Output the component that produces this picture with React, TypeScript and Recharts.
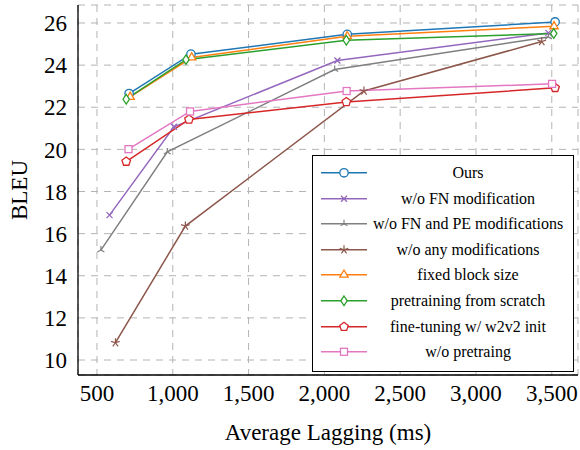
import React from 'react';
import { LineChart, Line, XAxis, YAxis, CartesianGrid, Legend } from 'recharts';

// Average Lagging (ms) / BLEU
const oursAL = [712, 1120, 2151, 3522];
const oursBLEU = [22.65, 24.52, 25.46, 26.05];

const noFnAL = [583, 1008, 2086, 3478];
const noFnBLEU = [16.88, 21.07, 24.22, 25.53];

const noFnPeAL = [526, 964, 2068, 3478];
const noFnPeBLEU = [15.22, 19.88, 23.79, 25.34];

const noModAL = [622, 1083, 2261, 3434];
const noModBLEU = [10.82, 16.36, 22.77, 25.12];

const fixedAL = [719, 1125, 2151, 3515];
const fixedBLEU = [22.49, 24.36, 25.37, 25.84];

const scratchAL = [693, 1087, 2145, 3513];
const scratchBLEU = [22.38, 24.26, 25.18, 25.5];

const w2v2AL = [693, 1107, 2145, 3522];
const w2v2BLEU = [19.42, 21.42, 22.25, 22.92];

const noPretrainAL = [708, 1114, 2147, 3502];
const noPretrainBLEU = [20.01, 21.8, 22.77, 23.11];

const xTicks = [500, 1000, 1500, 2000, 2500, 3000, 3500];
const yTicks = [10, 12, 14, 16, 18, 20, 22, 24, 26];

type Shape = 'circle' | 'cross' | 'mercedes' | 'star' | 'triangle' | 'diamond' | 'pentagon' | 'square';

const toPoints = (al: number[], bleu: number[]) => al.map((a, i) => ({ al: a, bleu: bleu[i] }));

const series: { name: string; color: string; shape: Shape; data: { al: number; bleu: number }[] }[] = [
    { name: 'Ours', color: '#1f77b4', shape: 'circle', data: toPoints(oursAL, oursBLEU) },
    { name: 'w/o FN modification', color: '#9467bd', shape: 'cross', data: toPoints(noFnAL, noFnBLEU) },
    { name: 'w/o FN and PE modifications', color: '#7f7f7f', shape: 'mercedes', data: toPoints(noFnPeAL, noFnPeBLEU) },
    { name: 'w/o any modifications', color: '#8c564b', shape: 'star', data: toPoints(noModAL, noModBLEU) },
    { name: 'fixed block size', color: '#ff7f0e', shape: 'triangle', data: toPoints(fixedAL, fixedBLEU) },
    { name: 'pretraining from scratch', color: '#2ca02c', shape: 'diamond', data: toPoints(scratchAL, scratchBLEU) },
    { name: 'fine-tuning w/ w2v2 init', color: '#d62728', shape: 'pentagon', data: toPoints(w2v2AL, w2v2BLEU) },
    { name: 'w/o pretraing', color: '#e377c2', shape: 'square', data: toPoints(noPretrainAL, noPretrainBLEU) },
];

const FONT = '"Liberation Serif", "DejaVu Serif", serif';

const spokes = (cx: number, cy: number, n: number, r: number, color: string) => {
    const lines = [];
    for (let i = 0; i < n; i++) {
        const a = -Math.PI / 2 + (i * 2 * Math.PI) / n;
        lines.push(<line key={i} x1={cx} y1={cy} x2={cx + r * Math.cos(a)} y2={cy + r * Math.sin(a)} stroke={color} strokeWidth={1.2} />);
    }
    return lines;
};

const polygon = (cx: number, cy: number, n: number, r: number) => {
    const pts = [];
    for (let i = 0; i < n; i++) {
        const a = -Math.PI / 2 + (i * 2 * Math.PI) / n;
        pts.push(`${cx + r * Math.cos(a)},${cy + r * Math.sin(a)}`);
    }
    return pts.join(' ');
};

const Marker = ({ cx, cy, color, shape }: { cx: number; cy: number; color: string; shape: Shape }) => {
    const sw = 1.3;
    switch (shape) {
        case 'circle':
            return <circle cx={cx} cy={cy} r={4.2} fill="#fff" stroke={color} strokeWidth={sw} />;
        case 'cross':
            return (
                <g>
                    <line x1={cx - 3} y1={cy - 3} x2={cx + 3} y2={cy + 3} stroke={color} strokeWidth={sw} />
                    <line x1={cx - 3} y1={cy + 3} x2={cx + 3} y2={cy - 3} stroke={color} strokeWidth={sw} />
                </g>
            );
        case 'mercedes':
            return <g>{spokes(cx, cy, 3, 4, color)}</g>;
        case 'star':
            return <g>{spokes(cx, cy, 5, 4.5, color)}</g>;
        case 'triangle':
            return <polygon points={polygon(cx, cy, 3, 4.8)} fill="#fff" stroke={color} strokeWidth={sw} />;
        case 'diamond':
            return <polygon points={`${cx},${cy - 4.8} ${cx + 3.2},${cy} ${cx},${cy + 4.8} ${cx - 3.2},${cy}`} fill="#fff" stroke={color} strokeWidth={sw} />;
        case 'pentagon':
            return <polygon points={polygon(cx, cy, 5, 4.5)} fill="#fff" stroke={color} strokeWidth={sw} />;
        case 'square':
            return <rect x={cx - 3.5} y={cy - 3.5} width={7} height={7} fill="#fff" stroke={color} strokeWidth={sw} />;
    }
    return null;
};

const LegendBox = () => (
    <div
        style={{
            width: 262,
            height: 217,
            boxSizing: 'border-box',
            border: '1.5px solid #000',
            background: '#fff',
            paddingTop: 4,
            fontFamily: FONT,
            fontSize: 16,
            color: '#000',
        }}
    >
        {series.map((s) => (
            <div key={s.name} style={{ position: 'relative', height: 25.6 }}>
                <svg width={56} height={25.6} style={{ position: 'absolute', left: 0, top: 0 }}>
                    <line x1={8} y1={12.8} x2={54} y2={12.8} stroke={s.color} strokeWidth={1.5} />
                    <Marker cx={31} cy={12.8} color={s.color} shape={s.shape} />
                </svg>
                <div style={{ position: 'absolute', left: 55, width: 200, top: 0, lineHeight: '25.6px', textAlign: 'center', whiteSpace: 'nowrap' }}>
                    {s.name}
                </div>
            </div>
        ))}
    </div>
);

const App = () => (
    <div style={{ position: 'absolute', left: 0, top: 0, background: '#fff' }}>
        <LineChart width={580} height={450} margin={{ top: 5, right: 2, left: 0, bottom: 0 }}>
            <CartesianGrid stroke="#b4b4b4" strokeDasharray="7 6" strokeWidth={1} />
            <XAxis
                dataKey="al"
                type="number"
                domain={[375, 3673]}
                ticks={xTicks}
                allowDataOverflow
                height={75}
                tickSize={0}
                tickMargin={10}
                tickLine={false}
                axisLine={{ stroke: '#000', strokeWidth: 1.3 }}
                tickFormatter={(v: number) => v.toLocaleString('en-US')}
                tick={{ fill: '#000', fontSize: 23, fontFamily: FONT }}
                label={{ value: 'Average Lagging (ms)', position: 'insideBottom', offset: 10, fill: '#000', fontSize: 23, fontFamily: FONT }}
            />
            <XAxis
                xAxisId="top"
                orientation="top"
                type="number"
                domain={[375, 3673]}
                height={0}
                tick={false}
                tickLine={false}
                axisLine={{ stroke: '#000', strokeWidth: 1.3 }}
            />
            <YAxis
                type="number"
                domain={[9.288, 26.854]}
                ticks={yTicks}
                allowDataOverflow
                width={78}
                tickSize={0}
                tickMargin={11}
                tickLine={false}
                axisLine={{ stroke: '#000', strokeWidth: 1.3 }}
                tick={{ fill: '#000', fontSize: 23, fontFamily: FONT }}
                label={{
                    content: (p: any) => {
                        const vb = p.viewBox || { x: 0, y: 5, width: 78, height: 370 };
                        const x = vb.x + 19;
                        const y = vb.y + vb.height / 2;
                        return (
                            <text x={x} y={y} transform={`rotate(-90 ${x} ${y})`} textAnchor="middle" dominantBaseline="central" fill="#000" fontSize={23} fontFamily={FONT}>
                                BLEU
                            </text>
                        );
                    },
                }}
            />
            <YAxis
                yAxisId="right"
                orientation="right"
                type="number"
                domain={[9.288, 26.854]}
                width={0}
                tick={false}
                tickLine={false}
                axisLine={{ stroke: '#000', strokeWidth: 1.3 }}
            />
            {series.map((s) => (
                <Line
                    key={s.name}
                    data={s.data}
                    dataKey="bleu"
                    name={s.name}
                    type="linear"
                    stroke={s.color}
                    strokeWidth={1.5}
                    isAnimationActive={false}
                    dot={(p: any) => <Marker key={`${s.name}-${p.index}`} cx={p.cx} cy={p.cy} color={s.color} shape={s.shape} />}
                    activeDot={false}
                />
            ))}
            <Legend
                layout="horizontal"
                verticalAlign="middle"
                align="center"
                wrapperStyle={{ left: 312, top: 155, width: 262, height: 217 }}
                content={() => <LegendBox />}
            />
        </LineChart>
    </div>
);

export default App;
